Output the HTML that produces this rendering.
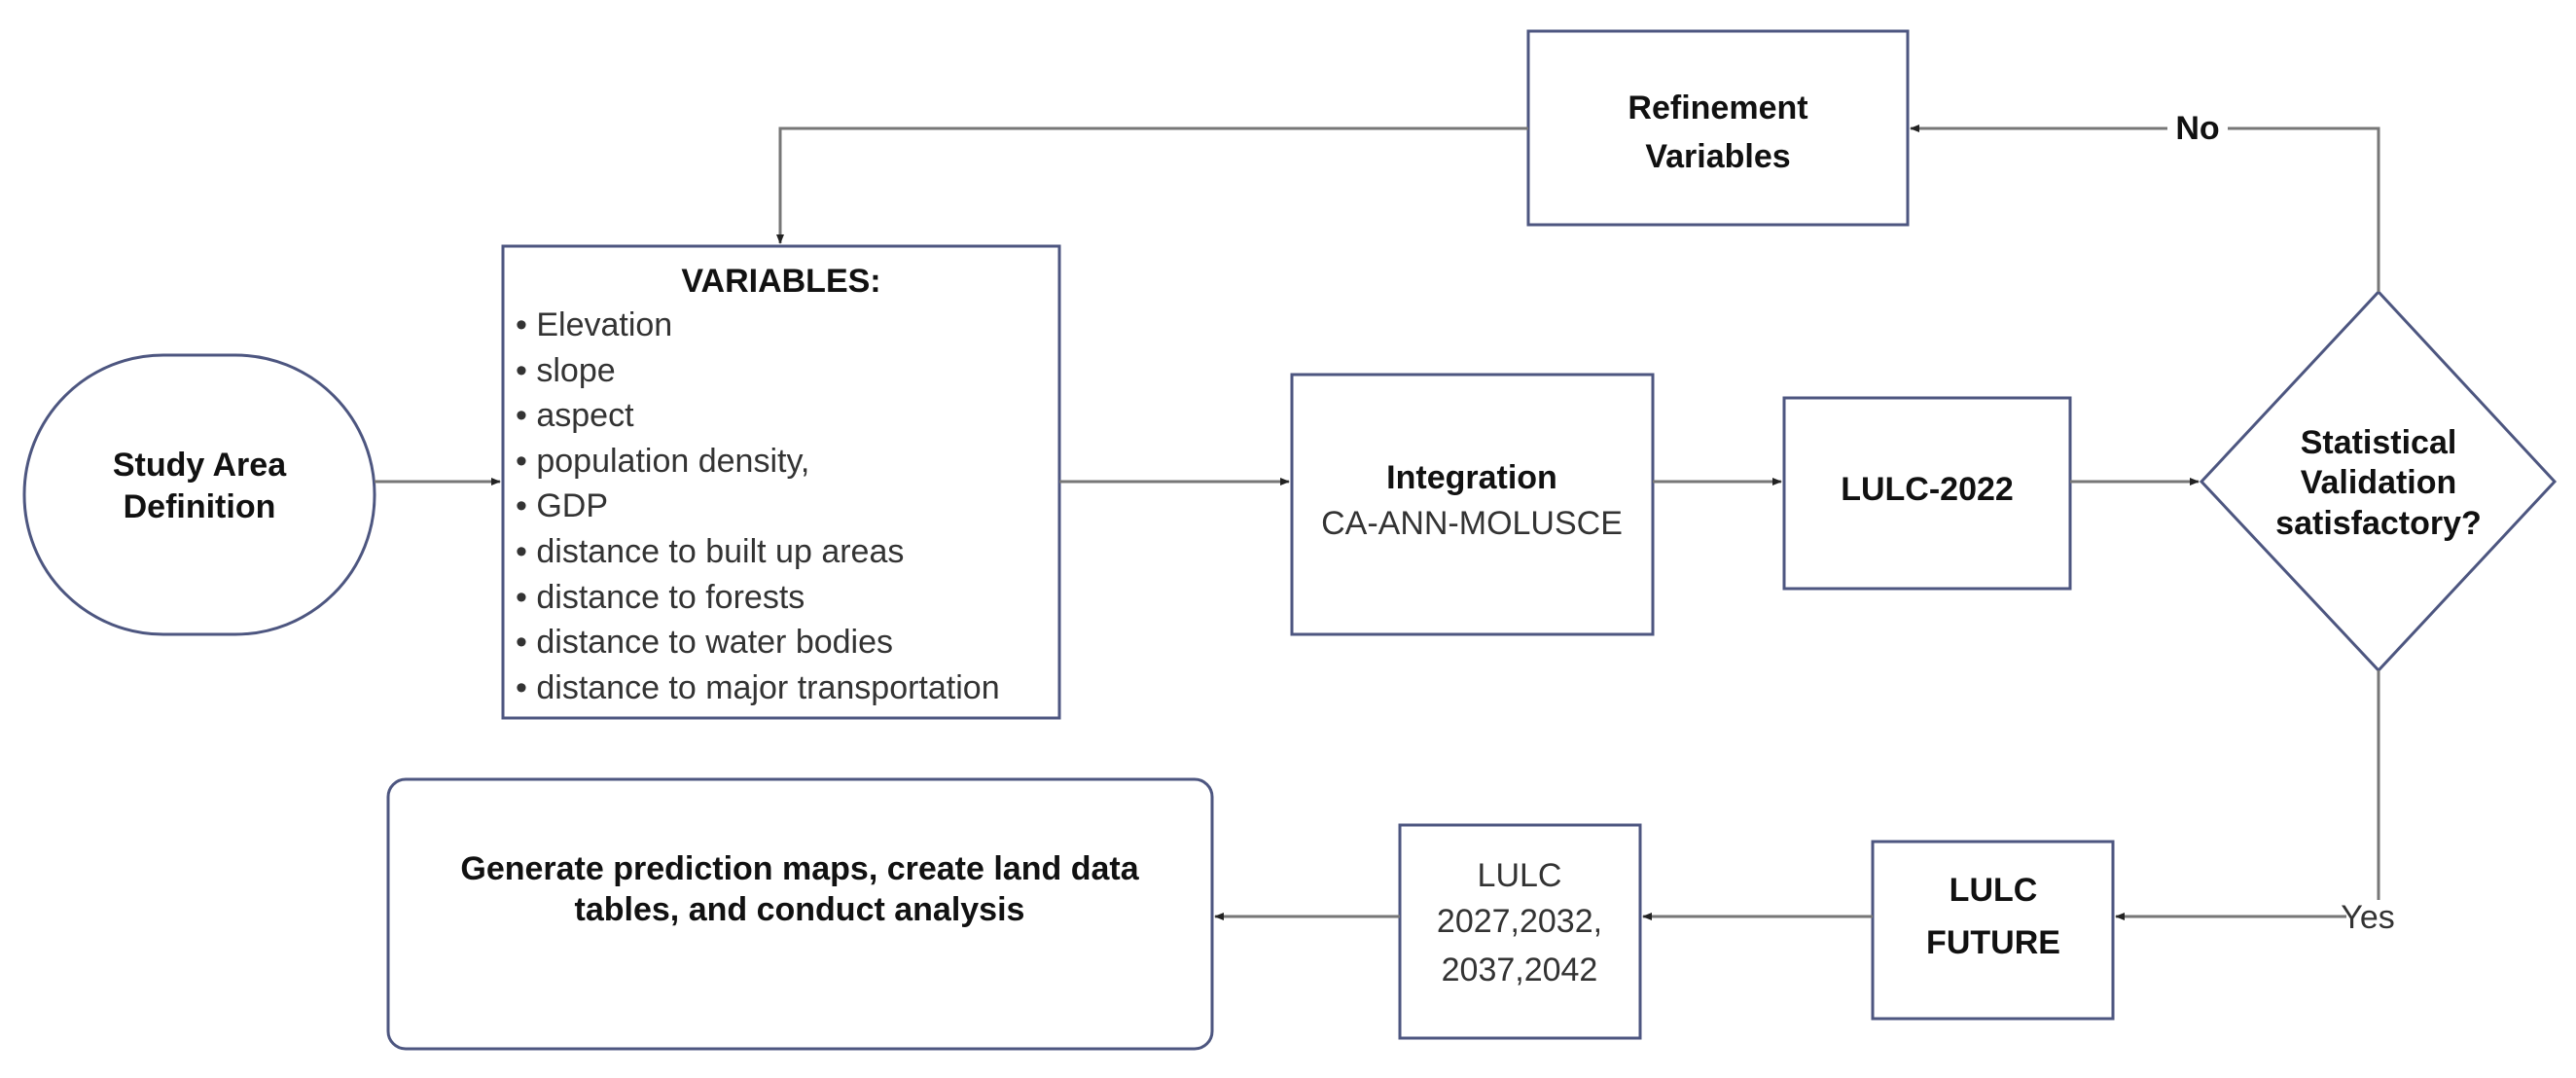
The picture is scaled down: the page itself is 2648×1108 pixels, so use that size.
<!DOCTYPE html>
<html><head><meta charset="utf-8"><style>
html,body{margin:0;padding:0;background:#fff;}
svg{display:block;}
text{font-family:"Liberation Sans",sans-serif;}
.b{font-weight:bold;fill:#111;font-size:34px;}
.r{fill:#333;font-size:34px;}
</style></head><body>
<svg width="2648" height="1108" viewBox="0 0 2648 1108" xmlns="http://www.w3.org/2000/svg">
<defs><marker id="a" markerWidth="10" markerHeight="10" refX="9" refY="5" orient="auto" markerUnits="userSpaceOnUse"><path d="M0,1 L10,5 L0,9 z" fill="#222"/></marker></defs>
<g fill="none" stroke="#4d5680" stroke-width="3">
<rect x="25" y="365" width="360" height="287" rx="143" ry="143"/>
<rect x="517" y="253" width="572" height="485"/>
<rect x="1571" y="32" width="390" height="199"/>
<rect x="1328" y="385" width="371" height="267"/>
<rect x="1834" y="409" width="294" height="196"/>
<polygon points="2445,300 2626,495 2445,689 2263,495"/>
<rect x="1925" y="865" width="247" height="182"/>
<rect x="1439" y="848" width="247" height="219"/>
<rect x="399" y="801" width="847" height="277" rx="18" ry="18"/>
</g>
<g fill="none" stroke="#777" stroke-width="3">
<line x1="385" y1="495" x2="514" y2="495" marker-end="url(#a)"/>
<line x1="1089" y1="495" x2="1325" y2="495" marker-end="url(#a)"/>
<line x1="1699" y1="495" x2="1831" y2="495" marker-end="url(#a)"/>
<line x1="2128" y1="495" x2="2260" y2="495" marker-end="url(#a)"/>
<polyline points="2445,300 2445,132 2290,132"/>
<line x1="2228" y1="132" x2="1964" y2="132" marker-end="url(#a)"/>
<polyline points="1571,132 802,132 802,250" marker-end="url(#a)"/>
<line x1="2445" y1="689" x2="2445" y2="925"/>
<line x1="2412" y1="942" x2="2175" y2="942" marker-end="url(#a)"/>
<line x1="1925" y1="942" x2="1689" y2="942" marker-end="url(#a)"/>
<line x1="1439" y1="942" x2="1249" y2="942" marker-end="url(#a)"/>
</g>
<text class="b" x="205" y="489" text-anchor="middle">Study Area</text>
<text class="b" x="205" y="532" text-anchor="middle">Definition</text>
<text class="b" x="803" y="300" text-anchor="middle">VARIABLES:</text>
<g class="r">
<text x="530" y="345">• Elevation</text>
<text x="530" y="392">• slope</text>
<text x="530" y="438">• aspect</text>
<text x="530" y="485">• population density,</text>
<text x="530" y="531">• GDP</text>
<text x="530" y="578">• distance to built up areas</text>
<text x="530" y="625">• distance to forests</text>
<text x="530" y="671">• distance to water bodies</text>
<text x="530" y="718">• distance to major transportation</text>
</g>
<text class="b" x="1766" y="122" text-anchor="middle">Refinement</text>
<text class="b" x="1766" y="172" text-anchor="middle">Variables</text>
<text class="b" x="2259" y="143" text-anchor="middle">No</text>
<text class="b" x="1513" y="502" text-anchor="middle">Integration</text>
<text class="r" x="1513" y="549" text-anchor="middle">CA-ANN-MOLUSCE</text>
<text class="b" x="1981" y="514" text-anchor="middle">LULC-2022</text>
<text class="b" x="2445" y="466" text-anchor="middle">Statistical</text>
<text class="b" x="2445" y="507" text-anchor="middle">Validation</text>
<text class="b" x="2445" y="549" text-anchor="middle">satisfactory?</text>
<text class="r" x="2434" y="954" text-anchor="middle">Yes</text>
<text class="b" x="2049" y="926" text-anchor="middle">LULC</text>
<text class="b" x="2049" y="980" text-anchor="middle">FUTURE</text>
<text class="r" x="1562" y="911" text-anchor="middle">LULC</text>
<text class="r" x="1562" y="958" text-anchor="middle">2027,2032,</text>
<text class="r" x="1562" y="1008" text-anchor="middle">2037,2042</text>
<text class="b" x="822" y="904" text-anchor="middle">Generate prediction maps, create land data</text>
<text class="b" x="822" y="946" text-anchor="middle">tables, and conduct analysis</text>
</svg>
</body></html>
